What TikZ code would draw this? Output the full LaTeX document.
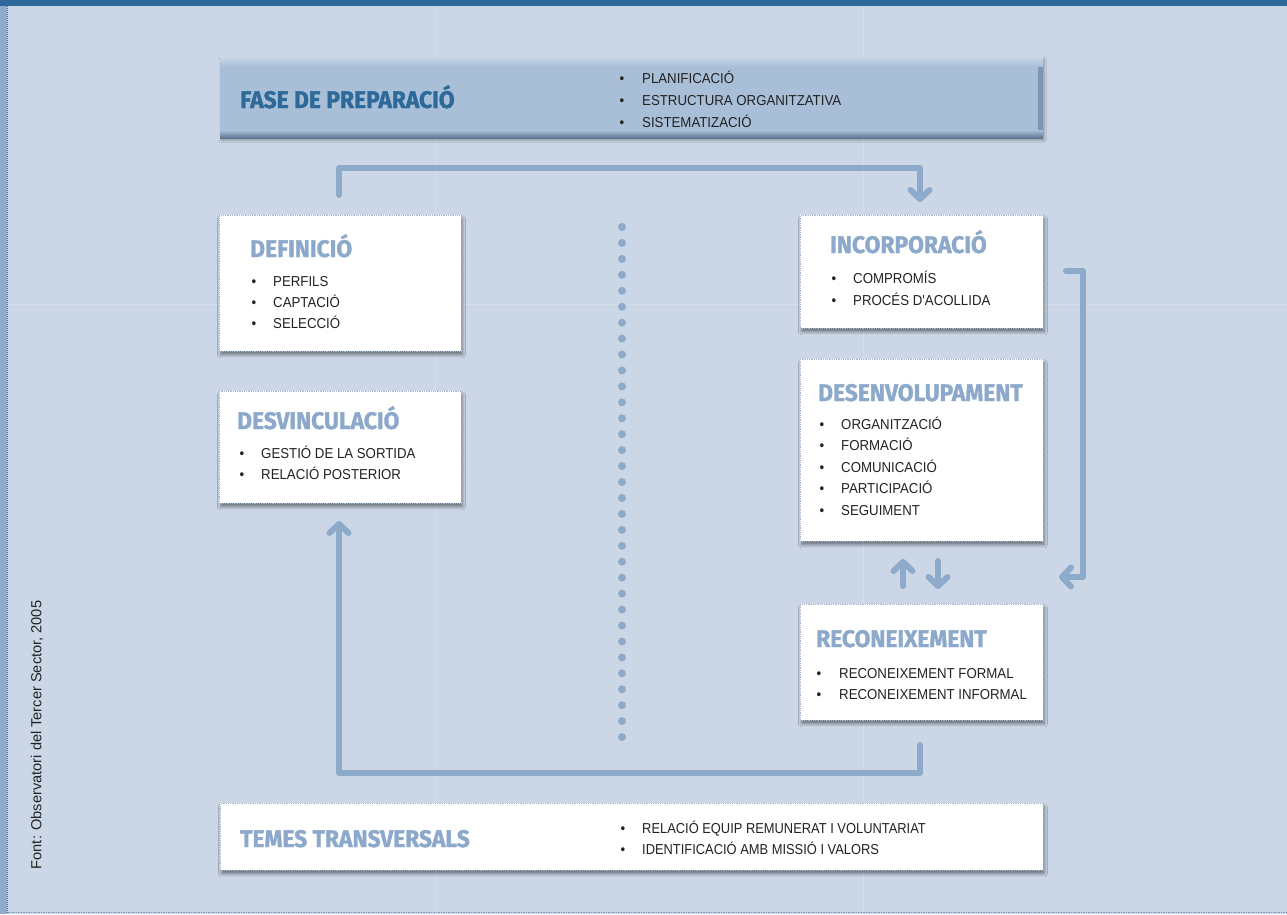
\documentclass[tikz,border=0pt]{standalone}
\usepackage{fontspec}
\setmainfont{Liberation Sans}
\newfontfamily\bodyfont[FakeStretch=0.92]{Liberation Sans}
\newfontfamily\bodycond[FakeStretch=0.895]{Liberation Sans}
\newfontfamily\headfont[FakeStretch=0.95,FakeBold=1.4]{Fira Sans}
\usetikzlibrary{arrows.meta,shadows.blur,calc}

\definecolor{bg}{HTML}{CBD7E7}
\definecolor{guide}{HTML}{D4DEEB}
\definecolor{topbar}{HTML}{2D6A9A}
\definecolor{strip}{HTML}{90AACC}
\definecolor{stripdot}{HTML}{4F6E97}
\definecolor{edgedot}{HTML}{8299BA}
\definecolor{topfill}{HTML}{A9BFD8}
\definecolor{toplight}{HTML}{C9D6E6}
\definecolor{topdark}{HTML}{5C7290}
\definecolor{headdark}{HTML}{2D6A99}
\definecolor{headlt}{HTML}{8CA9CC}
\definecolor{arr}{HTML}{8EAACB}
\definecolor{boxdot}{HTML}{A5B8D0}
\definecolor{txt}{HTML}{222222}

\tikzset{
  panel/.style={anchor=north west, inner sep=0, fill=white, draw=boxdot,
    densely dotted, line width=0.8pt,
    blur shadow={shadow xshift=1pt, shadow yshift=-3.5pt,
      shadow blur radius=3pt, shadow blur steps=6, shadow opacity=45}},
  topbox/.style={anchor=north west, inner sep=0, fill=topfill,
    blur shadow={shadow xshift=1pt, shadow yshift=-2pt,
      shadow blur radius=2pt, shadow blur steps=5, shadow opacity=30},
    path picture={
      \shade[left color=topfill, right color=topdark!55!topfill]
        ([xshift=-5pt]path picture bounding box.north east) rectangle (path picture bounding box.south east);
      \shade[top color=toplight, bottom color=topfill]
        (path picture bounding box.north west) rectangle ([yshift=-9pt]path picture bounding box.north east);
      \shade[top color=topfill, bottom color=topdark]
        ([yshift=8pt]path picture bounding box.south west) rectangle (path picture bounding box.south east);
    }},
  head/.style={font=\headfont\bfseries\fontsize{24}{24}\selectfont, text=headlt,
    inner sep=0, anchor=base west},
  item/.style={font=\bodyfont\fontsize{14.4}{16}\selectfont, text=txt,
    inner sep=0, anchor=base west},
  bul/.style={font=\bodyfont\fontsize{14.4}{16}\selectfont, text=txt,
    inner sep=0, anchor=base},
  conn/.style={line width=6pt, draw=arr, line cap=round, line join=round,
    -{Straight Barb[length=9pt,width=19pt,round]}},
}

\begin{document}
\begin{tikzpicture}[x=1pt,y=-1pt]
  % page background and frame
  \fill[bg] (0,0) rectangle (1287,914);
  \useasboundingbox (0,0) rectangle (1287,914);
  \draw[guide, line width=1pt] (435,6) -- (435,914);
  \draw[guide, line width=1pt] (863,6) -- (863,914);
  \draw[guide, line width=1pt] (8,304) -- (1287,304);
  \fill[topbar] (0,0) rectangle (1287,6);
  \fill[strip] (0,6) rectangle (7,914);
  \draw[stripdot, densely dotted, line width=1pt] (7.5,6) -- (7.5,914);
  \draw[edgedot, densely dotted, line width=1.5pt] (8,912.5) -- (1287,912.5);

  % source note
  \node[font=\fontsize{14.6}{16}\selectfont, text=txt, rotate=90, inner sep=0]
    (src) at (37,735) {Font: Observatori del Tercer Sector, 2005};

  % preparation phase
  \node[topbox, minimum width=823pt, minimum height=81pt] (prep) at (220,57) {};
  \node[head, text=headdark] (prep-h) at (240,108) {FASE DE PREPARACIÓ};
  \foreach \t [count=\i] in {PLANIFICACIÓ, ESTRUCTURA ORGANITZATIVA, SISTEMATIZACIÓ} {
    \node[bul] (prep-b\i) at (622,61+22*\i) {•};
    \node[item] (prep-t\i) at (642,61+22*\i) {\t};
  }

  % definition
  \node[panel, minimum width=242pt, minimum height=136pt] (def) at (219,215) {};
  \node[head] (def-h) at (250,257) {DEFINICIÓ};
  \foreach \t [count=\i] in {PERFILS, CAPTACIÓ, SELECCIÓ} {
    \node[bul] (def-b\i) at (254,265+21*\i) {•};
    \node[item] (def-t\i) at (273,265+21*\i) {\t};
  }

  % disengagement
  \node[panel, minimum width=242pt, minimum height=112pt] (des) at (219,391) {};
  \node[head] (des-h) at (237,429) {DESVINCULACIÓ};
  \foreach \t [count=\i] in {GESTIÓ DE LA SORTIDA, RELACIÓ POSTERIOR} {
    \node[bul] (des-b\i) at (242,437+21*\i) {•};
    \node[item] (des-t\i) at (261,437+21*\i) {\t};
  }

  % incorporation
  \node[panel, minimum width=243pt, minimum height=113pt] (inc) at (800,215) {};
  \node[head] (inc-h) at (830,253) {INCORPORACIÓ};
  \foreach \t [count=\i] in {COMPROMÍS, PROCÉS D'ACOLLIDA} {
    \node[bul] (inc-b\i) at (834,261+22*\i) {•};
    \node[item] (inc-t\i) at (853,261+22*\i) {\t};
  }

  % development
  \node[panel, minimum width=243pt, minimum height=182pt] (dev) at (800,359) {};
  \node[head] (dev-h) at (818,401) {DESENVOLUPAMENT};
  \foreach \t [count=\i] in {ORGANITZACIÓ, FORMACIÓ, COMUNICACIÓ, PARTICIPACIÓ, SEGUIMENT} {
    \node[bul] (dev-b\i) at (822,407.5+21.5*\i) {•};
    \node[item] (dev-t\i) at (841,407.5+21.5*\i) {\t};
  }

  % recognition
  \node[panel, minimum width=243pt, minimum height=116pt] (rec) at (800,604) {};
  \node[head] (rec-h) at (816,647) {RECONEIXEMENT};
  \foreach \t [count=\i] in {RECONEIXEMENT FORMAL, RECONEIXEMENT INFORMAL} {
    \node[bul] (rec-b\i) at (819,657+21*\i) {•};
    \node[item] (rec-t\i) at (839,657+21*\i) {\t};
  }

  % cross-cutting themes
  \node[panel, minimum width=823pt, minimum height=67pt] (tem) at (220,803) {};
  \node[head] (tem-h) at (240,847) {TEMES TRANSVERSALS};
  \foreach \t [count=\i] in {RELACIÓ EQUIP REMUNERAT I VOLUNTARIAT, IDENTIFICACIÓ AMB MISSIÓ I VALORS} {
    \node[bul] (tem-b\i) at (623,812+21*\i) {•};
    \node[item, font=\bodycond\fontsize{14.4}{16}\selectfont] (tem-t\i) at (642,812+21*\i) {\t};
  }

  % dotted divider
  \foreach \i in {0,...,32}
    \fill[arr] (622,227+15.94*\i) circle (4pt);

  % connectors
  \coordinate (topS) at (339,195);
  \coordinate (topA) at (339,168);
  \coordinate (topB) at (920,168);
  \coordinate (topE) at (920,202);
  \draw[conn] (topS) -- (topA) -- (topB) -- (topE);

  \coordinate (rS) at (1066,271);
  \coordinate (rA) at (1083,271);
  \coordinate (rB) at (1083,577);
  \coordinate (rE) at (1059,577);
  \draw[conn] (rS) -- (rA) -- (rB) -- (rE);

  \coordinate (upS) at (903,586);
  \coordinate (upE) at (903,559);
  \draw[conn] (upS) -- (upE);
  \coordinate (dnS) at (938,561);
  \coordinate (dnE) at (938,589);
  \draw[conn] (dnS) -- (dnE);

  \coordinate (bS) at (920,745);
  \coordinate (bA) at (920,773);
  \coordinate (bB) at (339,773);
  \coordinate (bE) at (339,521);
  \draw[conn] (bS) -- (bA) -- (bB) -- (bE);
\end{tikzpicture}
\end{document}
